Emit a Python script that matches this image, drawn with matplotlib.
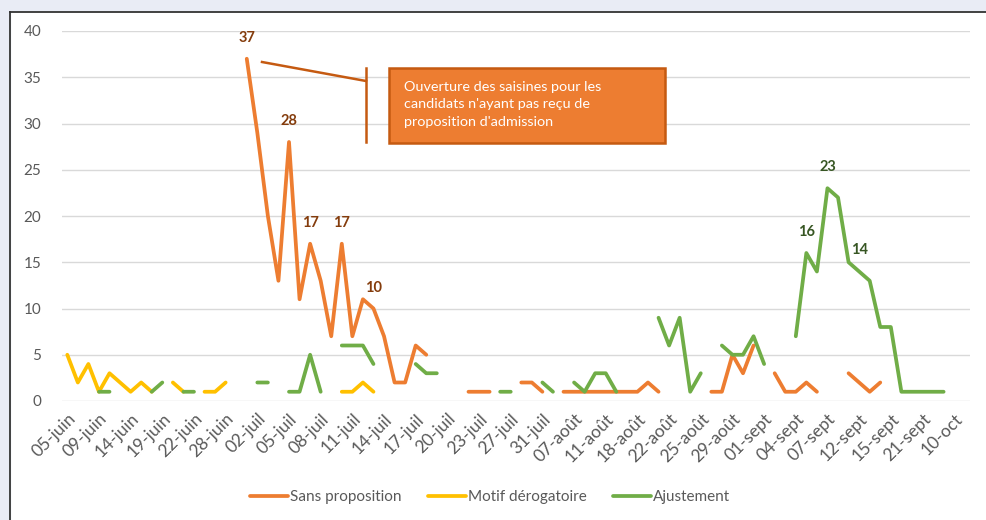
import matplotlib
matplotlib.use("Agg")
import matplotlib.pyplot as plt
import numpy as np
from matplotlib.patches import Rectangle
from matplotlib.lines import Line2D

plt.rcParams['font.family'] = ['Lato', 'DejaVu Sans']

N_CATEGORIES = 86
tick_labels = ["05-juin", "09-juin", "14-juin", "19-juin", "22-juin", "28-juin",
               "02-juil", "05-juil", "08-juil", "11-juil", "14-juil", "17-juil",
               "20-juil", "23-juil", "27-juil", "31-juil", "07-août", "11-août",
               "18-août", "22-août", "25-août", "29-août", "01-sept", "04-sept",
               "07-sept", "12-sept", "15-sept", "21-sept", "10-oct"]
TICK_STEP = 3

N = None
sans_proposition = [N]*17 + [37, 29, 20, 13, 28, 11, 17, 13, 7, 17, 7, 11, 10, 7, 2, 2, 6, 5,
                             N, N, N, 1, 1, 1, N, N, 2, 2, 1, N, 1, 1, 1, 1, 1, 1, 1, 1, 2, 1,
                             N, N, N, N, 1, 1, 5, 3, 6, N, 3, 1, 1, 2, 1, N, N, 3, 2, 1, 2] + [N]*8
motif_derogatoire = [5, 2, 4, 1, 3, 2, 1, 2, 1, N, 2, 1, N, 1, 1, 2] + [N]*10 + [1, 1, 2, 1] + [N]*56
ajustement = [N, N, N, 1, 1, N, N, N, 1, 2, N, 1, 1, N, N, N, N, N, 2, 2, N, 1, 1, 5, 1, N,
              6, 6, 6, 4, N, N, N, 4, 3, 3, N, N, N, N, N, 1, 1, N, N, 2, 1, N, 2, 1, 3, 3, 1,
              N, N, N, 9, 6, 9, 1, 3, N, 6, 5, 5, 7, 4, N, N, 7, 16, 14, 23, 22, 15, 14, 13, 8, 8,
              1, 1, 1, 1, 1, N, N]

labels_orange = {17: 37, 21: 28, 23: 17, 26: 17, 29: 10}
labels_green = {70: 16, 72: 23, 75: 14}

series = [("Sans proposition", sans_proposition, "#ED7D31"),
          ("Motif dérogatoire", motif_derogatoire, "#FFC000"),
          ("Ajustement", ajustement, "#70AD47")]

W, H = 987, 520
fig = plt.figure(figsize=(W/100, H/100), dpi=100)
fig.patch.set_facecolor("white")

# page background strips and frame
bg = "#E9ECF5"
fig.patches.append(Rectangle((0, 1 - 11/H), 1, 11/H, transform=fig.transFigure, color=bg, zorder=0))
fig.patches.append(Rectangle((0, 0), 10/W, 1, transform=fig.transFigure, color=bg, zorder=0))
fig.lines.append(Line2D([10.5/W, 1], [1 - 11.5/H, 1 - 11.5/H], transform=fig.transFigure, color="#333333", lw=1.3))
fig.lines.append(Line2D([10.5/W, 10.5/W], [0, 1 - 11.5/H], transform=fig.transFigure, color="#333333", lw=1.3))

ax_l, ax_r, ax_t, ax_b = 62, 970, 31, 401
ax = fig.add_axes([ax_l/W, 1 - ax_b/H, (ax_r-ax_l)/W, (ax_b-ax_t)/H])

x = np.arange(N_CATEGORIES)
for name, vals, col in series:
    y = np.array([np.nan if v is None else v for v in vals], dtype=float)
    ax.plot(x, y, color=col, lw=2.7, solid_capstyle='round', solid_joinstyle='round', label=name, zorder=3)

for i, v in labels_orange.items():
    ax.annotate(str(v), (i, v), xytext=(0, 21), textcoords='offset pixels', ha='center', va='center',
                fontsize=10.5, fontweight='bold', color="#843C0C", zorder=5)
for i, v in labels_green.items():
    ax.annotate(str(v), (i, v), xytext=(0, 21), textcoords='offset pixels', ha='center', va='center',
                fontsize=10.5, fontweight='bold', color="#375623", zorder=5)

ax.set_xlim(-0.5, N_CATEGORIES - 0.5)
ax.set_ylim(0, 40)
ax.set_yticks(np.arange(0, 41, 5))
ax.set_xticks(np.arange(0, len(tick_labels)*TICK_STEP, TICK_STEP))
ax.set_xticklabels(tick_labels, rotation=45, ha='right', rotation_mode='anchor')
ax.tick_params(axis='both', length=0, labelcolor="#595959")
ax.tick_params(axis='x', pad=7, labelsize=12.5)
ax.tick_params(axis='y', pad=15, labelsize=11)
for s in ax.spines.values():
    s.set_visible(False)
ax.grid(axis='y', color="#D9D9D9", lw=1)
ax.set_axisbelow(True)

def axfrac(px, py):
    return (px - ax_l)/(ax_r - ax_l), (ax_b - py)/(ax_b - ax_t)

# annotation callout
x1, y1 = axfrac(262, 62)
x2, y2 = axfrac(366, 81)
ax.add_line(Line2D([x1, x2], [y1, y2], transform=ax.transAxes, color="#C55A11", lw=1.8, clip_on=False, zorder=6))
vx, vy1 = axfrac(366, 68)
_, vy2 = axfrac(366, 142)
ax.add_line(Line2D([vx, vx], [vy1, vy2], transform=ax.transAxes, color="#C55A11", lw=1.8, clip_on=False, zorder=6))
bx0, by0 = axfrac(389, 143)
bx1, by1 = axfrac(665, 68)
ax.add_patch(Rectangle((bx0, by0), bx1 - bx0, by1 - by0, transform=ax.transAxes, facecolor="#ED7D31",
                       edgecolor="#C55A11", lw=1.8, clip_on=False, zorder=6))
tx, ty = axfrac(404, 81)
ax.text(tx, ty, "Ouverture des saisines pour les\ncandidats n'ayant pas reçu de\nproposition d'admission",
        transform=ax.transAxes, ha='left', va='top', color="white", fontsize=10.4, linespacing=1.55, zorder=7)

leg = fig.legend(loc='center', bbox_to_anchor=(490/W, 1 - 497/H), ncol=3, frameon=False,
                 fontsize=11, handlelength=2.5, handletextpad=0.15, columnspacing=1.7)
for t in leg.get_texts():
    t.set_color("#595959")
for h in leg.get_lines():
    h.set_linewidth(2.7)
    h.set_solid_capstyle('round')

fig.savefig("out.png", dpi=100)
